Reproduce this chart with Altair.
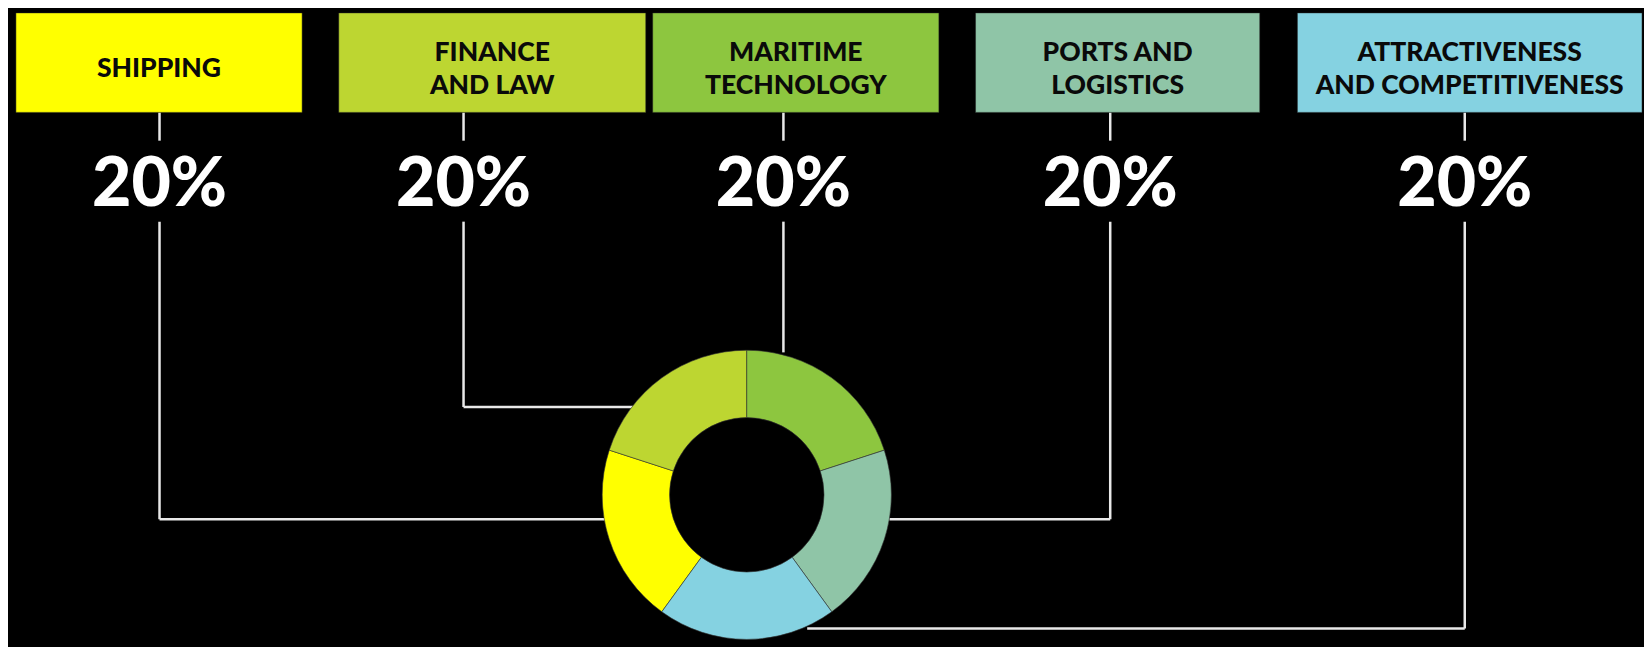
import altair as alt
import pandas as pd
import math

# ---- data ----
categories = ["Shipping", "Finance and Law", "Maritime Technology",
              "Ports and Logistics", "Attractiveness and Competitiveness"]
box_labels = ["SHIPPING", "FINANCE\nAND LAW", "MARITIME\nTECHNOLOGY",
              "PORTS AND\nLOGISTICS", "ATTRACTIVENESS\nAND COMPETITIVENESS"]
shares = [20, 20, 20, 20, 20]
share_labels = ["20%", "20%", "20%", "20%", "20%"]
colors = ["#FFFF00", "#BDD631", "#8DC63F", "#8FC5A7", "#85D2E1"]
ring_order = [3, 4, 0, 1, 2]  # clockwise position in the donut, from 12 o'clock

# ---- layout (reference pixel space 1652 x 655) ----
REF_W, REF_H = 1652, 655
W, H = 1636, 639
sx = W / REF_W
sy = H / REF_H
box_left = [8, 334, 651, 977, 1302]
box_right = [297, 644, 940, 1264, 1650]
box_top, box_bottom = 5, 107
stem_x = [153, 460, 783, 1113, 1471]
stem_gap_top, stem_gap_bottom = 136, 219
elbow_y = [524, 409, 353, 524, 636]
elbow_end_x = [603, 632, 783, 890, 807]
donut_cx, donut_cy = 746, 499
r_outer, r_inner = 146, 78
pct_baseline = 203

def xs():
    return alt.Scale(domain=[0, REF_W], nice=False, zero=False)

def ys():
    return alt.Scale(domain=[0, REF_H], nice=False, zero=False, reverse=True)

def col():
    return alt.Scale(domain=categories, range=colors)

n_lines = [len(t.split("\n")) for t in box_labels]
boxes = pd.DataFrame({
    "cat": categories, "label": box_labels,
    "x1": box_left, "x2": box_right,
    "y1": [box_top] * 5, "y2": [box_bottom] * 5,
    "tx": [(a + b) / 2 for a, b in zip(box_left, box_right)],
    "ty": [71 - 17 * (n - 1) for n in n_lines],
    "px": stem_x, "py": [pct_baseline] * 5, "pct": share_labels,
})

segs = []
for i in range(5):
    segs.append({"sx1": stem_x[i], "sx2": stem_x[i], "sy1": box_bottom, "sy2": stem_gap_top})
    segs.append({"sx1": stem_x[i], "sx2": stem_x[i], "sy1": stem_gap_bottom, "sy2": elbow_y[i]})
    if elbow_end_x[i] != stem_x[i]:
        segs.append({"sx1": stem_x[i], "sx2": elbow_end_x[i], "sy1": elbow_y[i], "sy2": elbow_y[i]})
segs = pd.DataFrame(segs)

ring = pd.DataFrame({"cat": categories, "share": shares, "ord": ring_order})
total = sum(shares)

rects = alt.Chart(boxes).mark_rect(stroke="#222", strokeWidth=0.5).encode(
    x=alt.X("x1:Q", scale=xs(), axis=None), x2="x2:Q",
    y=alt.Y("y1:Q", scale=ys(), axis=None), y2="y2:Q",
    color=alt.Color("cat:N", scale=col(), legend=None),
)
labels = alt.Chart(boxes).mark_text(
    font="Lato", fontWeight=900, fontSize=26.5, color="#0a0a0a",
    align="center", baseline="alphabetic", lineBreak="\n", lineHeight=33,
).encode(
    x=alt.X("tx:Q", scale=xs(), axis=None),
    y=alt.Y("ty:Q", scale=ys(), axis=None),
    text="label:N",
)

pcts = alt.Chart(boxes).mark_text(
    font="Lato", fontWeight=900, fontSize=68, color="white",
    align="center", baseline="alphabetic",
).encode(
    x=alt.X("px:Q", scale=xs(), axis=None),
    y=alt.Y("py:Q", scale=ys(), axis=None),
    text="pct:N",
)

lines = alt.Chart(segs).mark_rule(color="#e8e8e8", strokeWidth=2.5).encode(
    x=alt.X("sx1:Q", scale=xs(), axis=None), x2="sx2:Q",
    y=alt.Y("sy1:Q", scale=ys(), axis=None), y2="sy2:Q",
)

donut = alt.Chart(ring).transform_window(
    cum="sum(share)", sort=[alt.SortField("ord")], frame=[None, 0]
).transform_calculate(
    start="datum.cum - datum.share"
).mark_arc(
    radius=r_outer * sx, radius2=r_inner * sx, stroke="#333", strokeWidth=0.6,
).encode(
    theta=alt.Theta("start:Q", scale=alt.Scale(domain=[0, total], range=[0, 2 * math.pi])),
    theta2="cum:Q",
    color=alt.Color("cat:N", scale=col(), legend=None),
    x=alt.value(donut_cx * sx),
    y=alt.value(donut_cy * sy),
)

chart = alt.layer(lines, rects, labels, pcts, donut).properties(
    width=W, height=H, background="black", padding=0,
    autosize=alt.AutoSizeParams(type="none"),
).configure_view(strokeWidth=0)

chart.save("out.html", embed_options={"renderer": "svg", "actions": False})
